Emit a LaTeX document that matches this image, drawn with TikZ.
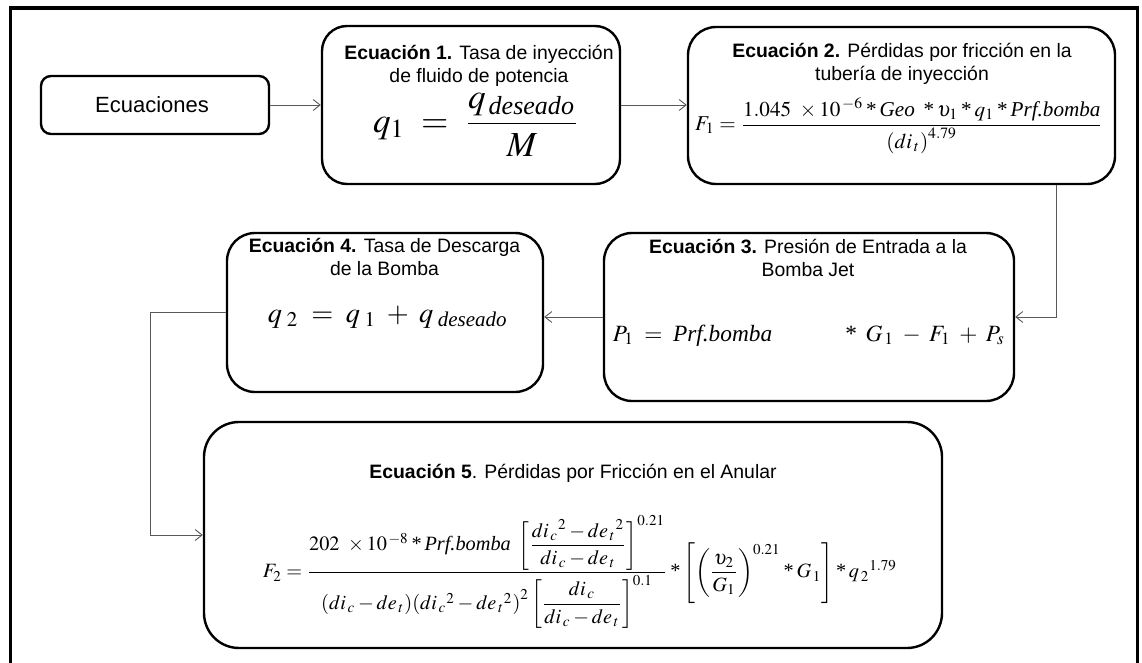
\documentclass[tikz,border=0pt]{standalone}
\usepackage{amsmath}
\usepackage{mathptmx}
\usepackage[no-math]{fontspec}
\setmainfont{Liberation Sans}
\newfontfamily\tms{Liberation Serif}
\usepackage{graphicx}
\usetikzlibrary{arrows.meta}
\newcommand{\st}{\mathbin{\text{\tms *}}}
\newcommand{\tw}[1]{\text{\tms\itshape #1}}
\newcommand{\ttlfont}{\fontsize{19.4}{23}\selectfont}
\tikzset{
  box/.style={draw=black, line width=2.4pt, fill=white, inner sep=0pt},
  conn/.style={draw=black!65, line width=0.9pt, -{Straight Barb[length=7pt,width=11pt,line width=0.9pt]}},
  ttl/.style={font=\ttlfont, inner sep=0pt, anchor=base},
  frm/.style={inner sep=0pt}
}
\begin{document}
\begin{tikzpicture}[x=1pt,y=-1pt]
\useasboundingbox (0,0) rectangle (1142,663);
% outer frame (open at bottom)
\draw[line width=3.2pt] (10.5,663) -- (10.5,8) -- (1137.5,8) -- (1137.5,663);

% boxes
\node[box, rounded corners=10pt, minimum width=228pt, minimum height=58pt] (ec) at (155,105) {};
\node[box, rounded corners=25pt, minimum width=298pt, minimum height=158pt] (e1) at (471,105) {};
\node[box, rounded corners=28pt, minimum width=427pt, minimum height=157pt] (e2) at (901.5,105.5) {};
\node[box, rounded corners=28pt, minimum width=410pt, minimum height=168pt] (e3) at (809,317) {};
\node[box, rounded corners=28pt, minimum width=316pt, minimum height=159pt] (e4) at (385,312.5) {};
\node[box, rounded corners=35pt, minimum width=738pt, minimum height=226pt] (e5) at (573,535) {};

% texts
\node[font=\fontsize{22}{26}\selectfont, inner sep=0pt, anchor=base] (tec) at (152,113) {Ecuaciones};
\node[ttl] (t1) at (479,60) {\begin{tabular}[t]{@{}c@{}}\textbf{Ecuación 1.} Tasa de inyección\\de fluido de potencia\end{tabular}};
\node[ttl] (t2) at (902,58) {\begin{tabular}[t]{@{}c@{}}\textbf{Ecuación 2.} Pérdidas por fricción en la\\tubería de inyección\end{tabular}};
\node[ttl] (t3) at (808,253) {\begin{tabular}[t]{@{}c@{}}\textbf{Ecuación 3.} Presión de Entrada a la\\Bomba Jet\end{tabular}};
\node[ttl] (t4) at (384.5,252) {\begin{tabular}[t]{@{}c@{}}\textbf{Ecuación 4.} Tasa de Descarga\\de la Bomba\end{tabular}};
\node[ttl] (t5) at (573,478) {\textbf{Ecuación 5}. Pérdidas por Fricción en el Anular};

% formulas
\node[frm] (f1) at (476.5,125) {\resizebox{207pt}{!}{$q_{1} \;=\; \dfrac{q_{\,\tw{deseado}}}{M}$}};
\node[frm] (f2) at (899,126) {\resizebox{408pt}{!}{$F_{1} = \dfrac{1.045\ \times 10^{\,-6} \st \tw{Geo}\ \st \upsilon_{1} \st q_{1} \st \tw{Prf.bomba}}{\left(di_{\,t}\right)^{4.79}}$}};
\node[frm, anchor=base] (f3) at (809,341) {\resizebox{392pt}{!}{$P_{1} \;=\; \tw{Prf.bomba}\qquad\quad \st\; G_{\,1} \;-\; F_{1} \;+\; P_{s}$}};
\node[frm, anchor=base] (f4) at (388,322) {\resizebox{240pt}{!}{$q_{\;2} \;=\; q_{\;1} \;+\; q_{\;\tw{deseado}}$}};
\node[frm] (f5) at (580,572) {\resizebox{634pt}{!}{$F_{2} = \dfrac{202\ \times 10^{\,-8} \st \tw{Prf.bomba}\ \left[\dfrac{di_{\,c}{}^{2} - de_{\,t}{}^{2}}{di_{\,c} - de_{\,t}}\right]^{0.21}}{\left(di_{\,c} - de_{\,t}\right)\!\left(di_{\,c}{}^{2} - de_{\,t}{}^{2}\right)^{2}\left[\dfrac{di_{\,c}}{di_{\,c} - de_{\,t}}\right]^{0.1}} \st \left[\left(\dfrac{\upsilon_{2}}{G_{1}}\right)^{0.21} \st G_{\,1}\right] \st q_{\,2}{}^{1.79}$}};

% connectors
\coordinate (k1) at (1056,0);
\coordinate (k2) at (150,0);
\draw[conn] (ec.east) -- (ec.east -| e1.west);
\draw[conn] (e1.east) -- (e1.east -| e2.west);
\draw[conn] (k1 |- e2.south) |- (e3.east);
\draw[conn] (e3.west) -- (e3.west -| e4.east);
\draw[conn] (e4.west) -| (k2 |- e5.west) -- (e5.west);
\end{tikzpicture}
\end{document}
